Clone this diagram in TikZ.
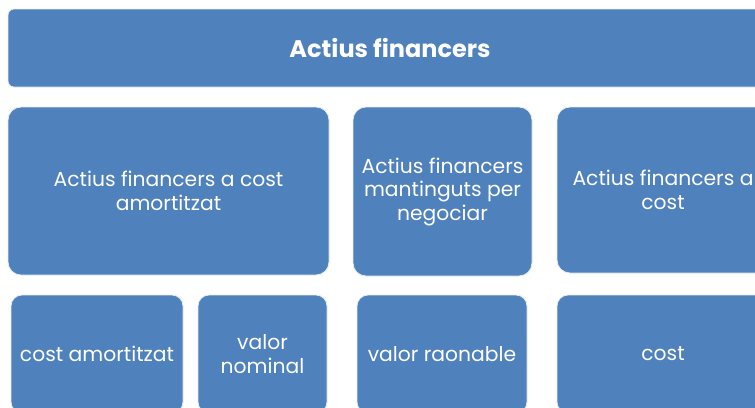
\documentclass[tikz,border=0pt]{standalone}
\usepackage{fontspec}
\setmainfont{Poppins}
\definecolor{boxblue}{RGB}{79,129,189}

\begin{document}
\begin{tikzpicture}[x=1pt, y=-1pt,
  box/.style={draw=white!85!boxblue, line width=0.8pt, fill=boxblue, rounded corners=13pt,
    text=white, align=center, inner sep=0pt, font=\fontsize{20.3}{23.5}\selectfont}]
\useasboundingbox (0,0) rectangle (755,407);
\clip (0,0) rectangle (755,407);

% title
\node[box, rounded corners=6pt, minimum width=764pt, minimum height=78pt,
  font=\bfseries\fontsize{24}{28}\selectfont] (title) at (390,48) {Actius financers};

% groups
\node[box, minimum width=321pt, minimum height=168pt] (amort) at (168.5,191) {Actius financers a cost\\amortitzat};
\node[box, minimum width=179pt, minimum height=169pt] (negoc) at (442.5,191.5) {Actius financers\\mantinguts per\\negociar};
\node[box, minimum width=212pt, minimum height=166pt] (acost) at (663,190) {Actius financers a\\cost};

% valuation
\node[box, rounded corners=11pt, minimum width=172pt, minimum height=118pt] (costam) at (97,354) {cost amortitzat};
\node[box, rounded corners=11pt, minimum width=129pt, minimum height=118pt] (nominal) at (262.5,354) {valor\\nominal};
\node[box, rounded corners=11pt, minimum width=170pt, minimum height=118pt] (raonable) at (442,354) {valor raonable};
\node[box, rounded corners=11pt, minimum width=212pt, minimum height=118pt] (cost) at (663,354) {cost};
\end{tikzpicture}
\end{document}
